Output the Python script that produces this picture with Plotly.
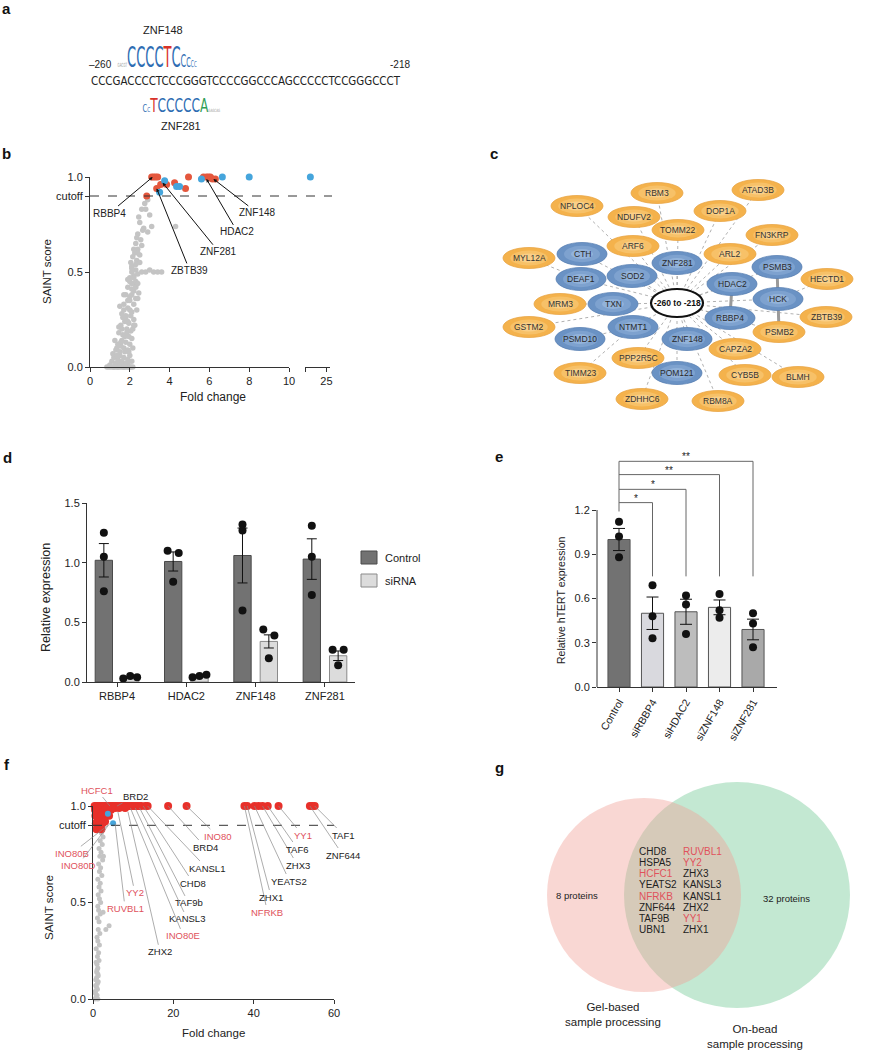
import plotly.graph_objects as go

W, H = 876, 1050
FONT = "Liberation Sans, Arial, Helvetica, sans-serif"
NARROW = "Liberation Sans Narrow, Arial Narrow, DejaVu Sans Condensed, Liberation Sans, sans-serif"
INK = "#222222"
RED_TXT = "#e0525c"

# ---------------- panel a data ----------------
seq = "CCCGACCCCTCCCGGGTCCCCGGCCCAGCCCCCTCCGGGCCCT"
seq_left, seq_right = "\u2013260", "-218"
top_motif, bottom_motif = "ZNF148", "ZNF281"
top_logo_letters = ["G", "A", "C", "G", "T", "C", "C", "C", "C", "T", "C", "C", "C", "C", "C"]
top_logo_heights = [0.2, 0.2, 0.2, 0.2, 0.2, 1, 1, 1, 1, 1, 1, 0.62, 0.5, 0.34, 0.3]
bot_logo_letters = ["C", "C", "T", "C", "C", "C", "C", "C", "A", "G", "A", "G", "C", "A", "G"]
bot_logo_heights = [0.55, 0.35, 1, 1, 1, 1, 1, 1, 1, 0.2, 0.2, 0.2, 0.2, 0.2, 0.2]

# ---------------- panel b data ----------------
b_gray_x = [0.85, 0.95, 1.05, 1.15, 1.25, 1.35, 1.45, 1.55, 1.65, 1.75, 1.85, 1.95, 2.05, 2.15,
            1.1, 1.2, 1.3, 1.4, 1.5, 1.6, 1.7, 1.8, 1.9, 2.0, 2.1,
            1.3, 1.4, 1.5, 1.6, 1.7, 1.8, 1.9, 2.0, 2.1,
            1.45, 1.55, 1.65, 1.75, 1.85, 1.95, 2.05, 2.2,
            1.6, 1.7, 1.8, 1.9, 2.0, 2.1, 2.2, 2.35,
            1.8, 1.9, 2.0, 2.1, 2.2, 2.3, 2.45,
            2.0, 2.1, 2.2, 2.3, 2.4, 2.6, 2.8, 3.0, 3.2, 3.4, 3.6,
            2.05, 2.15, 2.25, 2.35, 2.5,
            2.3, 2.4, 2.55, 2.7, 2.9, 3.1, 4.3,
            2.45, 2.6, 2.75, 3.0, 2.9,
            1.0, 1.15, 1.35, 1.55, 1.75, 1.95, 2.15, 1.25, 1.45, 1.65, 1.85, 2.05, 2.25,
            1.5, 1.7, 1.9, 2.1, 2.3, 1.9, 2.1, 2.3, 2.4,
            1.2, 1.3, 1.4, 1.5, 1.6, 1.7, 1.8, 1.9, 2.0, 1.35, 1.55, 1.75, 1.95, 2.15,
            1.6, 1.8, 2.0, 2.2, 2.4, 1.7, 1.9, 2.1, 2.3, 2.0, 2.2, 2.4, 2.1, 2.3, 2.5,
            2.2, 2.4, 2.6, 2.35, 2.5, 2.65, 2.8]
b_gray_y = [0, 0, 0, 0, 0, 0, 0, 0, 0, 0, 0, 0, 0, 0,
            0.03, 0.05, 0.02, 0.04, 0.06, 0.03, 0.05, 0.02, 0.04, 0.06, 0.03,
            0.09, 0.12, 0.08, 0.14, 0.10, 0.13, 0.09, 0.12, 0.15,
            0.18, 0.22, 0.17, 0.24, 0.20, 0.23, 0.19, 0.25,
            0.28, 0.33, 0.27, 0.31, 0.35, 0.29, 0.33, 0.30,
            0.38, 0.42, 0.37, 0.44, 0.40, 0.43, 0.39,
            0.47, 0.50, 0.48, 0.51, 0.49, 0.50, 0.50, 0.51, 0.50, 0.50, 0.50,
            0.55, 0.58, 0.60, 0.56, 0.59,
            0.65, 0.70, 0.67, 0.73, 0.71, 0.74, 0.74,
            0.79, 0.83, 0.86, 0.80, 0.88,
            0.01, 0.07, 0.06, 0.11, 0.16, 0.08, 0.10, 0.14, 0.21, 0.26, 0.18, 0.27, 0.22,
            0.32, 0.38, 0.24, 0.41, 0.36, 0.46, 0.53, 0.45, 0.62,
            0.0, 0.01, 0.0, 0.02, 0.01, 0.0, 0.01, 0.02, 0.0, 0.1, 0.13, 0.08, 0.16, 0.2,
            0.2, 0.26, 0.3, 0.22, 0.36, 0.3, 0.35, 0.38, 0.42, 0.45, 0.47, 0.44, 0.52, 0.54, 0.55,
            0.62, 0.6, 0.64, 0.68, 0.76, 0.72, 0.83]
b_red_x = [2.85, 3.1, 3.2, 3.3, 3.4, 3.35, 3.55, 3.85, 4.25, 4.8, 4.95, 5.7, 5.85, 5.95, 6.05, 6.15, 6.3]
b_red_y = [0.90, 1.0, 1.0, 1.0, 1.0, 0.94, 0.96, 0.96, 0.97, 0.94, 1.0, 1.0, 1.0, 1.0, 1.0, 0.99, 0.99]
b_blue_x = [3.5, 3.75, 4.35, 4.5, 5.6, 6.65, 8.0]
b_blue_y = [0.92, 0.98, 0.95, 0.95, 0.99, 1.0, 1.0]
b_blue_far_x = [23.2]
b_blue_far_y = [1.0]
b_cutoff = 0.9
b_labels = ["RBBP4", "ZNF148", "HDAC2", "ZNF281", "ZBTB39"]
b_label_x = [3.15, 6.2, 5.85, 3.65, 3.35]
b_label_y = [1.0, 0.99, 0.99, 0.97, 0.94]
b_label_dx = [-43, 44, 31, 56, 33]
b_label_dy = [36, 34, 53, 69, 82]

# ---------------- panel c data ----------------
c_center = "-260 to -218"
c_center_xy = (677, 303)
c_orange = ["RBM3", "ATAD3B", "NPLOC4", "NDUFV2", "DOP1A", "TOMM22", "FN3KRP", "ARF6", "ARL2", "MYL12A",
            "HECTD1", "MRM3", "ZBTB39", "GSTM2", "PSMB2", "CAPZA2", "PPP2R5C", "TIMM23", "CYB5B", "BLMH",
            "ZDHHC6", "RBM8A"]
c_orange_x = [657, 758, 577, 634, 720, 678, 772, 633, 730, 529, 827, 560, 826, 529, 779, 735, 638, 580, 745, 798, 642, 718]
c_orange_y = [193, 190, 206, 217, 211, 230, 235, 246, 254, 258, 279, 304, 317, 327, 332, 349, 358, 373, 375, 377, 399, 401]
c_blue = ["CTH", "ZNF281", "PSMB3", "DEAF1", "SOD2", "HDAC2", "HCK", "TXN", "RBBP4", "NTMT1", "PSMD10", "ZNF148", "POM121"]
c_blue_x = [582, 677, 777, 581, 632, 732, 778, 613, 730, 633, 580, 687, 677]
c_blue_y = [254, 263, 267, 279, 276, 284, 299, 304, 318, 327, 339, 339, 373]
c_center_links = ["CTH", "ZNF281", "SOD2", "DEAF1", "HDAC2", "HCK", "TXN", "RBBP4", "NTMT1", "ZNF148", "POM121",
                  "PSMB3", "RBM3", "ATAD3B", "NPLOC4", "NDUFV2", "DOP1A", "TOMM22", "FN3KRP", "ARF6", "ARL2",
                  "ZBTB39", "PSMB2", "CAPZA2", "PPP2R5C", "CYB5B", "BLMH", "ZDHHC6", "RBM8A", "GSTM2"]
c_other_links = [("MRM3", "TXN"), ("MYL12A", "DEAF1"), ("PSMD10", "NTMT1"), ("TIMM23", "NTMT1"), ("HECTD1", "HCK")]
c_strong_links = [("PSMB3", "HCK"), ("HCK", "PSMB2"), ("HDAC2", "RBBP4")]

# ---------------- panel d data ----------------
d_cats = ["RBBP4", "HDAC2", "ZNF148", "ZNF281"]
d_ctrl = [1.02, 1.01, 1.06, 1.03]
d_ctrl_sem = [0.14, 0.08, 0.23, 0.17]
d_si = [0.04, 0.05, 0.34, 0.22]
d_si_sem = [0.005, 0.006, 0.055, 0.04]
d_ctrl_pts = [[1.25, 1.05, 0.76], [1.10, 1.08, 0.84], [1.32, 1.27, 0.60], [1.31, 1.05, 0.73]]
d_si_pts = [[0.03, 0.05, 0.04], [0.04, 0.06, 0.05], [0.44, 0.39, 0.20], [0.27, 0.27, 0.14]]
d_ctrl_jit = [[0, 0, 0], [-0.08, 0.08, 0], [0, 0, 0], [0, 0, 0]]
d_si_jit = [[-0.1, 0, 0.1], [-0.1, 0.1, 0], [-0.08, 0.08, 0], [-0.08, 0.08, 0]]
d_series = ["Control", "siRNA"]

# ---------------- panel e data ----------------
e_cats = ["Control", "siRBBP4", "siHDAC2", "siZNF148", "siZNF281"]
e_vals = [1.00, 0.50, 0.51, 0.54, 0.39]
e_sem = [0.075, 0.11, 0.085, 0.05, 0.07]
e_pts = [[1.12, 1.02, 0.88], [0.69, 0.48, 0.33], [0.62, 0.56, 0.36], [0.63, 0.52, 0.47], [0.50, 0.43, 0.27]]
e_sig = ["*", "*", "**", "**"]
e_bracket_levels = [1.25, 1.34, 1.44, 1.53]
e_bracket_base = 1.19
e_bracket_drop = 0.75

# ---------------- panel f data ----------------
f_gray_x = [0.5, 0.8, 1.0, 1.2, 0.6, 0.9, 1.1, 0.7, 1.3, 0.9, 1.2, 1.0, 1.5, 1.1, 1.4, 0.8, 1.6, 1.2, 1.0, 1.7,
            1.3, 3.2, 4.0, 1.5, 1.1, 1.8, 1.4, 2.5, 1.2, 1.9, 1.6, 1.3, 2.0, 1.5, 1.8, 1.2, 2.2, 1.6, 1.9, 1.4,
            2.4, 1.7, 2.6, 2.0, 1.5, 2.3, 1.8, 2.5, 2.1, 1.9, 0.6, 0.7, 0.9, 1.0, 1.1, 1.3, 0.8, 1.2]
f_gray_y = [0.0, 0.01, 0.02, 0.0, 0.04, 0.06, 0.08, 0.1, 0.12, 0.14, 0.16, 0.18, 0.2, 0.22, 0.24, 0.26, 0.28, 0.3,
            0.32, 0.34, 0.36, 0.36, 0.38, 0.4, 0.42, 0.44, 0.46, 0.45, 0.48, 0.5, 0.52, 0.54, 0.56, 0.58, 0.6, 0.62,
            0.64, 0.66, 0.68, 0.7, 0.72, 0.74, 0.74, 0.76, 0.78, 0.8, 0.82, 0.84, 0.86, 0.88,
            0.03, 0.07, 0.11, 0.15, 0.05, 0.09, 0.19, 0.13]
f_red_x = [0.4, 0.8, 1.2, 1.6, 2.0, 2.4, 2.8, 3.2, 3.6, 4.0, 4.4, 4.8, 5.2, 5.6, 6.0, 6.5, 7.0, 7.5, 8.0, 8.5,
           9.0, 9.5, 10.0, 10.5, 11.0, 11.5, 12.0, 13.0, 13.6,
           0.5, 1.0, 1.5, 2.0, 2.5, 3.0, 3.5, 4.5, 5.5, 6.5, 8.0,
           0.6, 1.1, 1.6, 2.2, 2.8, 3.4, 4.0,
           0.7, 1.2, 1.8, 2.4, 3.0, 0.9, 1.5, 2.1,
           18.7, 23.3, 37.7, 38.4, 40.2, 41.2, 42.2, 43.5, 46.2, 54.0, 54.6, 55.2]
f_red_y = [1.0] * 29 + \
          [0.98, 0.97, 0.98, 0.96, 0.97, 0.98, 0.99, 0.98, 0.99, 0.99, 0.99] + \
          [0.95, 0.94, 0.93, 0.95, 0.94, 0.96, 0.95] + \
          [0.91, 0.90, 0.92, 0.91, 0.92, 0.88, 0.89, 0.88] + \
          [1.0] * 12
f_blue_x = [3.7, 5.0]
f_blue_y = [0.96, 0.91]
f_labels = ["HCFC1", "BRD2", "INO80", "BRD4", "KANSL1", "CHD8", "TAF9b", "KANSL3", "INO80E", "ZHX2", "YY2",
            "RUVBL1", "INO80B", "INO80D", "NFRKB", "ZHX1", "YEATS2", "ZHX3", "TAF6", "YY1", "ZNF644", "TAF1"]
f_label_red = [1, 0, 1, 0, 0, 0, 0, 0, 1, 0, 1, 1, 1, 1, 1, 0, 0, 0, 0, 1, 0, 0]
f_label_x = [4.2, 6.0, 23.3, 18.7, 13.6, 12.5, 11.6, 10.5, 9.3, 8.7, 6.2, 5.5, 3.7, 4.2, 37.7, 38.4, 40.2, 42.2,
             43.5, 46.2, 54.0, 55.2]
f_label_y = [1.0, 1.0, 1.0, 1.0, 1.0, 1.0, 0.99, 0.99, 0.99, 0.97, 0.97, 0.91, 0.9, 0.91, 1.0, 1.0, 1.0, 1.0,
             1.0, 1.0, 1.0, 1.0]
f_label_dx = [-13, 18, 31, 37, 59, 50, 49, 52, 53, 32, 17, 10, -36, -32, 23, 24, 35, 35, 30, 24, 33, 29]
f_label_dy = [-16, -10, 30, 41, 62, 77, 95, 111, 128, 140, 81, 85, 28, 42, 106, 91, 75, 59, 43, 29, 49, 29]

# ---------------- panel g data ----------------
g_left_only, g_right_only = "8 proteins", "32 proteins"
g_col1 = ["CHD8", "HSPA5", "HCFC1", "YEATS2", "NFRKB", "ZNF644", "TAF9B", "UBN1"]
g_col1_red = [0, 0, 1, 0, 1, 0, 0, 0]
g_col2 = ["RUVBL1", "YY2", "ZHX3", "KANSL3", "KANSL1", "ZHX2", "YY1", "ZHX1"]
g_col2_red = [1, 1, 0, 0, 0, 0, 1, 0]
g_left_name = "Gel-based<br>sample processing"
g_right_name = "On-bead<br>sample processing"


# ---------------- helpers ----------------
def xd(a, b):
    return [a / W, b / W]


def yd(top, bottom):
    return [1 - bottom / H, 1 - top / H]


def axstyle(**kw):
    base = dict(showline=True, linecolor="#333", linewidth=1, ticks="outside", ticklen=4, tickcolor="#333",
                tickwidth=1, showgrid=False, zeroline=False, automargin=False,
                tickfont=dict(size=11, color=INK, family=FONT))
    base.update(kw)
    return base


annotations = []
shapes = []


def txt(x, y, text, size=11, color=INK, family=FONT, **kw):
    annotations.append(dict(x=x, y=y, xref="x6", yref="y6", text=text, showarrow=False,
                            font=dict(size=size, color=color, family=family), **kw))


fig = go.Figure()

# overlay (pixel) subplot
fig.add_trace(go.Scatter(x=[0], y=[0], xaxis="x6", yaxis="y6", mode="markers",
                         marker=dict(opacity=0), hoverinfo="skip"))

# ---------------- panel labels ----------------
for lab, (lx, ly) in zip("abcdefg", [(6, 8), (6, 153), (494, 153), (7, 457), (499, 456), (7, 764), (499, 767)]):
    txt(lx, ly, "<b>%s</b>" % lab, size=15, color="#111")

# ---------------- panel a ----------------
LOGO_COL = {"C": "#2f6db3", "T": "#d8332a", "A": "#2e9e55", "G": "#e8a23a"}


def logo_html(letters, heights, maxsize):
    parts = []
    for l, h in zip(letters, heights):
        col = "#a0a0a0" if h < 0.25 else LOGO_COL[l]
        parts.append('<span style="font-size:%.1fpx;color:%s">%s</span>' % (max(3.0, maxsize * h), col, l))
    return "".join(parts)


txt(163, 30, top_motif, size=11)
txt(100, 64, seq_left, size=10)
txt(400, 64, seq_right, size=10)
txt(246, 81, seq, size=11.4, family=NARROW)
txt(116, 72, logo_html(top_logo_letters, top_logo_heights, 14.5), size=14.5, family=NARROW,
    xanchor="left", yanchor="bottom")
txt(141, 117, logo_html(bot_logo_letters, bot_logo_heights, 13.5), size=13.5, family=NARROW,
    xanchor="left", yanchor="bottom")
txt(181, 126, bottom_motif, size=11)

# ---------------- panel b ----------------
fig.add_trace(go.Scatter(x=b_gray_x, y=b_gray_y, mode="markers", xaxis="x", yaxis="y", cliponaxis=False,
                         marker=dict(size=5.5, color="#c4c4c4")))
fig.add_trace(go.Scatter(x=b_red_x, y=b_red_y, mode="markers", xaxis="x", yaxis="y", cliponaxis=False,
                         marker=dict(size=7, color="#e4573d")))
fig.add_trace(go.Scatter(x=b_blue_x, y=b_blue_y, mode="markers", xaxis="x", yaxis="y", cliponaxis=False,
                         marker=dict(size=7, color="#45a5dc")))
fig.add_trace(go.Scatter(x=b_blue_far_x, y=b_blue_far_y, mode="markers", xaxis="x2", yaxis="y",
                         cliponaxis=False, marker=dict(size=7, color="#45a5dc")))
shapes.append(dict(type="line", xref="paper", yref="y", x0=90 / W, x1=332 / W, y0=b_cutoff, y1=b_cutoff,
                   line=dict(color="#333", width=1, dash="dash")))
for name, x, y, dx, dy in zip(b_labels, b_label_x, b_label_y, b_label_dx, b_label_dy):
    annotations.append(dict(x=x, y=y, xref="x", yref="y", ax=dx, ay=dy, text=name, showarrow=True,
                            arrowhead=2, arrowsize=0.7, arrowwidth=1, arrowcolor="#111",
                            font=dict(size=10, color=INK, family=FONT)))
txt(47, 272, "SAINT score", size=11.5, textangle=-90)
txt(213, 397, "Fold change", size=12)

# ---------------- panel c ----------------
pos = {c_center: c_center_xy}
for n, x, y in zip(c_orange, c_orange_x, c_orange_y):
    pos[n] = (x, y)
for n, x, y in zip(c_blue, c_blue_x, c_blue_y):
    pos[n] = (x, y)


def edge(a, b, color, width, dash="solid"):
    (x0, y0), (x1, y1) = pos[a], pos[b]
    shapes.append(dict(type="line", xref="x6", yref="y6", x0=x0, y0=y0, x1=x1, y1=y1,
                       line=dict(color=color, width=width, dash=dash), layer="below"))


for n in c_center_links:
    edge(c_center, n, "#a8a8a8", 0.9, "dot")
for a, b in c_other_links:
    edge(a, b, "#a8a8a8", 0.9, "dot")
for a, b in c_strong_links:
    edge(a, b, "#9a9a9a", 3)


def node(x, y, rx, ry, cols, edgecol):
    # concentric ellipses imitate the radial shading of the network nodes
    for k, col in enumerate(cols):
        f = 1 - 0.28 * k
        shapes.append(dict(type="circle", xref="x6", yref="y6", x0=x - rx * f, x1=x + rx * f,
                           y0=y - ry * f, y1=y + ry * f, fillcolor=col,
                           line=dict(color=edgecol if k == 0 else col, width=0.8 if k == 0 else 0),
                           layer="above"))


for n, x, y in zip(c_orange, c_orange_x, c_orange_y):
    node(x, y, 26, 10.5, ["#f4b24c", "#f7c168", "#f9cf88"], "#e9a444")
    txt(x, y, n, size=8.5, color="#333")
for n, x, y in zip(c_blue, c_blue_x, c_blue_y):
    node(x, y, 25, 11.5, ["#6a92c4", "#7ea2cf", "#93b3da"], "#5a82b4")
    txt(x, y, n, size=8.5, color="#2a2a2a")
cx, cy = c_center_xy
shapes.append(dict(type="circle", xref="x6", yref="y6", x0=cx - 26, x1=cx + 26, y0=cy - 14, y1=cy + 14,
                   fillcolor="white", line=dict(color="#111", width=2.2), layer="above"))
txt(cx, cy, "<b>%s</b>" % c_center, size=8.5, color="#111")

# ---------------- panel d ----------------
D_OFF, D_W = 0.19, 0.25
xi = list(range(len(d_cats)))
fig.add_trace(go.Bar(x=[i - D_OFF for i in xi], y=d_ctrl, width=D_W, xaxis="x3", yaxis="y3",
                     marker=dict(color="#727272", line=dict(color="#4a4a4a", width=1)),
                     error_y=dict(type="data", array=d_ctrl_sem, color="#111", thickness=1, width=5)))
fig.add_trace(go.Bar(x=[i + D_OFF for i in xi], y=d_si, width=D_W, xaxis="x3", yaxis="y3",
                     marker=dict(color="#dcdcdc", line=dict(color="#8a8a8a", width=1)),
                     error_y=dict(type="data", array=d_si_sem, color="#111", thickness=1, width=5)))
dx_pts, dy_pts = [], []
for i in xi:
    for v, j in zip(d_ctrl_pts[i], d_ctrl_jit[i]):
        dx_pts.append(i - D_OFF + j)
        dy_pts.append(v)
    for v, j in zip(d_si_pts[i], d_si_jit[i]):
        dx_pts.append(i + D_OFF + j)
        dy_pts.append(v)
fig.add_trace(go.Scatter(x=dx_pts, y=dy_pts, mode="markers", xaxis="x3", yaxis="y3", cliponaxis=False,
                         marker=dict(size=8, color="#111")))
# legend
for k, (name, col, lc) in enumerate(zip(d_series, ["#727272", "#dcdcdc"], ["#4a4a4a", "#8a8a8a"])):
    y0 = 551 + k * 23
    shapes.append(dict(type="rect", xref="x6", yref="y6", x0=361, x1=377, y0=y0, y1=y0 + 13,
                       fillcolor=col, line=dict(color=lc, width=1)))
    txt(383, y0 + 6.5, name, size=11, xanchor="left")
txt(46, 598, "Relative expression", size=12.5, textangle=-90)

# ---------------- panel e ----------------
ei = list(range(len(e_cats)))
fig.add_trace(go.Bar(x=ei, y=e_vals, width=0.66, xaxis="x4", yaxis="y4",
                     marker=dict(color=["#727272", "#d9d9de", "#bdbdbd", "#ececec", "#a9a9a9"],
                                 line=dict(color="#555", width=1)),
                     error_y=dict(type="data", array=e_sem, color="#111", thickness=1, width=6)))
ex_pts, ey_pts = [], []
for i in ei:
    for v in e_pts[i]:
        ex_pts.append(i)
        ey_pts.append(v)
fig.add_trace(go.Scatter(x=ex_pts, y=ey_pts, mode="markers", xaxis="x4", yaxis="y4", cliponaxis=False,
                         marker=dict(size=8, color="#111")))
shapes.append(dict(type="line", xref="x4 domain", yref="y4", x0=0, x1=0, y0=0, y1=1.2,
                   line=dict(color="#333", width=1)))
shapes.append(dict(type="line", xref="x4", yref="y4", x0=0, x1=0, y0=e_bracket_base, y1=max(e_bracket_levels),
                   line=dict(color="#666", width=1)))
for k, (lev, star) in enumerate(zip(e_bracket_levels, e_sig)):
    i = k + 1
    shapes.append(dict(type="line", xref="x4", yref="y4", x0=0, x1=i, y0=lev, y1=lev,
                       line=dict(color="#666", width=1)))
    shapes.append(dict(type="line", xref="x4", yref="y4", x0=i, x1=i, y0=lev, y1=e_bracket_drop,
                       line=dict(color="#666", width=1)))
    annotations.append(dict(x=i / 2, y=lev, xref="x4", yref="y4", text=star, showarrow=False, yanchor="bottom",
                            yshift=-3, font=dict(size=10, color=INK, family=FONT)))
txt(561, 600, "Relative hTERT expression", size=10.5, textangle=-90)

# ---------------- panel f ----------------
fig.add_trace(go.Scatter(x=f_gray_x, y=f_gray_y, mode="markers", xaxis="x5", yaxis="y5", cliponaxis=False,
                         marker=dict(size=5, color="#c4c4c4")))
fig.add_trace(go.Scatter(x=f_red_x, y=f_red_y, mode="markers", xaxis="x5", yaxis="y5", cliponaxis=False,
                         marker=dict(size=8, color="#e8302a")))
fig.add_trace(go.Scatter(x=f_blue_x, y=f_blue_y, mode="markers", xaxis="x5", yaxis="y5", cliponaxis=False,
                         marker=dict(size=6, color="#45a5dc")))
shapes.append(dict(type="line", xref="x5", yref="y5", x0=0, x1=60, y0=b_cutoff, y1=b_cutoff,
                   line=dict(color="#333", width=1, dash="dash")))
for name, red, x, y, dx, dy in zip(f_labels, f_label_red, f_label_x, f_label_y, f_label_dx, f_label_dy):
    annotations.append(dict(x=x, y=y, xref="x5", yref="y5", ax=dx, ay=dy, text=name, showarrow=True,
                            arrowhead=0, arrowwidth=0.7, arrowcolor="#8a8a8a",
                            font=dict(size=9.5, color=RED_TXT if red else INK, family=FONT)))
txt(49, 908, "SAINT score", size=11.5, textangle=-90)
txt(213, 1033, "Fold change", size=11.5)

# ---------------- panel g ----------------
shapes.append(dict(type="circle", xref="x6", yref="y6", x0=737 - 113, x1=737 + 113, y0=895 - 113, y1=895 + 113,
                   fillcolor="rgba(135,210,165,0.5)", line=dict(width=0), layer="below"))
shapes.append(dict(type="circle", xref="x6", yref="y6", x0=644 - 97, x1=644 + 97, y0=895 - 97, y1=895 + 97,
                   fillcolor="rgba(240,160,150,0.42)", line=dict(width=0), layer="below"))
txt(577, 895, g_left_only, size=9.5)
txt(786, 898, g_right_only, size=9.5)
for k, (n, r) in enumerate(zip(g_col1, g_col1_red)):
    txt(637, 851 + 11.25 * k, n, size=10, color=RED_TXT if r else INK, xanchor="left")
for k, (n, r) in enumerate(zip(g_col2, g_col2_red)):
    txt(681, 851 + 11.25 * k, n, size=10, color=RED_TXT if r else INK, xanchor="left")
txt(613, 1014, g_left_name, size=11.5)
txt(755, 1036, g_right_name, size=11.5)

# ---------------- layout ----------------
fig.update_layout(
    width=W, height=H, margin=dict(l=0, r=0, t=0, b=0), template="none",
    paper_bgcolor="white", plot_bgcolor="rgba(0,0,0,0)", showlegend=False,
    font=dict(family=FONT, color=INK, size=11), barmode="overlay",
    xaxis=axstyle(domain=xd(90, 289), range=[0, 10], anchor="y", tickvals=[0, 2, 4, 6, 8, 10]),
    xaxis2=axstyle(domain=xd(305, 330), range=[22.6, 25.4], anchor="y", tickvals=[22.6, 25], ticktext=["", "25"]),
    yaxis=axstyle(domain=yd(177, 367), range=[0, 1], anchor="x", tickvals=[0, 0.5, 0.9, 1],
                  ticktext=["0.0", "0.5", "cutoff", "1.0"]),
    xaxis3=axstyle(domain=xd(87, 355), range=[-0.433, 3.433], anchor="y3", tickvals=xi, ticktext=d_cats),
    yaxis3=axstyle(domain=yd(503, 682), range=[0, 1.5], anchor="x3", tickvals=[0, 0.5, 1, 1.5],
                   ticktext=["0.0", "0.5", "1.0", "1.5"]),
    xaxis4=axstyle(domain=xd(597, 777), range=[-0.657, 4.716], anchor="y4", tickvals=ei, ticktext=e_cats,
                   tickangle=-60, tickfont=dict(size=10.5, color=INK, family=FONT)),
    yaxis4=axstyle(domain=yd(451, 687), range=[0, 1.6], anchor="x4", showline=False,
                   tickvals=[0, 0.3, 0.6, 0.9, 1.2], ticktext=["0.0", "0.3", "0.6", "0.9", "1.2"]),
    xaxis5=axstyle(domain=xd(93, 334), range=[0, 60], anchor="y5", tickvals=[0, 20, 40, 60]),
    yaxis5=axstyle(domain=yd(806, 999), range=[0, 1], anchor="x5", tickvals=[0, 0.5, 0.9, 1],
                   ticktext=["0.0", "0.5", "cutoff", "1.0"]),
    xaxis6=dict(domain=[0, 1], range=[0, W], anchor="y6", visible=False, fixedrange=True),
    yaxis6=dict(domain=[0, 1], range=[H, 0], anchor="x6", visible=False, fixedrange=True),
    shapes=shapes, annotations=annotations,
)

# page tweaks: no body margin, and stretch the two sequence-logo texts vertically (logo letters are tall/narrow)
post = """
document.body.style.margin='0px';
document.body.style.overflow='hidden';
try {
  var stretch = {};
  stretch['%s'] = 1.9;
  stretch['%s'] = 1.45;
  document.querySelectorAll('g.annotation text').forEach(function(t){
    var k = stretch[t.textContent];
    if (!k) return;
    var bb = t.getBBox();
    var cy = bb.y + bb.height * 0.78;
    var old = t.getAttribute('transform') || '';
    t.setAttribute('transform', old + ' translate(0,' + cy + ') scale(1,' + k + ') translate(0,' + (-cy) + ')');
  });
} catch (e) {}
""" % ("".join(top_logo_letters), "".join(bot_logo_letters))

fig.write_html("out.html", post_script=post, config={"displayModeBar": False})
